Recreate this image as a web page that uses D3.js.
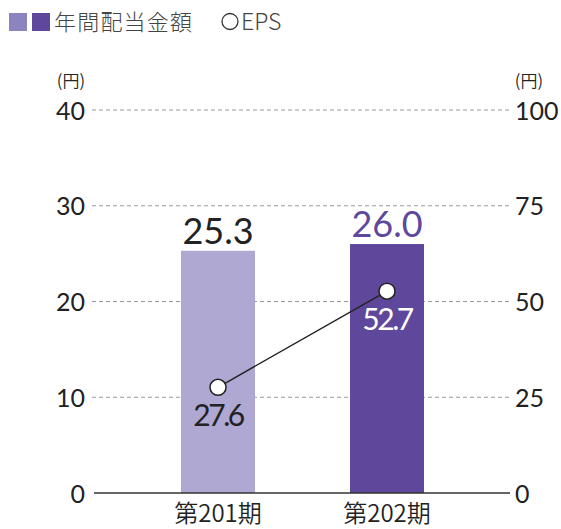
<!DOCTYPE html>
<html><head><meta charset="utf-8">
<script src="https://cdn.jsdelivr.net/npm/d3@7"></script>
<style>body{margin:0;background:#fff}svg{display:block;font-family:"Noto Sans CJK JP","Noto Sans",sans-serif}</style>
</head><body>
<svg id="c" width="561" height="529"></svg>
<script>
const categories = ["第201期", "第202期"];
const dividends = [25.3, 26.0];
const eps = [27.6, 52.7];
const leftTicks = [0, 10, 20, 30, 40];
const rightTicks = [0, 25, 50, 75, 100];
const barColors = ["#aea8d2", "#5f479c"];
const legendColors = ["#8b84bf", "#5f479c"];
const NUM = "Lato, 'Noto Sans', sans-serif";

const svg = d3.select("#c");
const y = d3.scaleLinear().domain([0, 40]).range([493, 110]);
const y2 = d3.scaleLinear().domain([0, 100]).range([493, 110]);
const x = d3.scaleBand().domain(categories).range([181, 424]).paddingInner(0.562).paddingOuter(0);

// legend
svg.selectAll("rect.lg").data(legendColors).enter().append("rect")
  .attr("x", (d,i)=>9 + i*23).attr("y", 13).attr("width", 18).attr("height", 18).attr("fill", d=>d);
svg.append("text").attr("x", 54).attr("y", 30).attr("font-size", 22).attr("letter-spacing", 1.2)
  .attr("font-weight", 300).attr("fill", "#444").text("年間配当金額");
svg.append("circle").attr("cx", 230).attr("cy", 21.5).attr("r", 8).attr("fill", "#fff").attr("stroke", "#333").attr("stroke-width", 1.3);
svg.append("text").attr("x", 241).attr("y", 30).attr("font-size", 23).attr("fill", "#444")
  .attr("font-weight", 300).text("EPS");

// unit labels
svg.append("text").attr("x", 71).attr("y", 87).attr("font-size", 17).attr("font-weight", 350).attr("text-anchor","middle").attr("fill","#222").text("(円)");
svg.append("text").attr("x", 529).attr("y", 87).attr("font-size", 17).attr("font-weight", 350).attr("text-anchor","middle").attr("fill","#222").text("(円)");

// gridlines
svg.selectAll("line.g").data(leftTicks.slice(1)).enter().append("line")
  .attr("x1", 92).attr("x2", 512).attr("y1", d=>y(d)).attr("y2", d=>y(d))
  .attr("stroke", "#999").attr("stroke-dasharray", "4,3").attr("stroke-width", 1);

// axes
const la = svg.append("g").attr("transform", "translate(85,0)")
  .call(d3.axisLeft(y).tickValues(leftTicks).tickSize(0).tickPadding(0));
la.select(".domain").remove();
la.selectAll("text").attr("font-size", 25).attr("fill", "#222").attr("dy", "0.36em")
  .attr("font-family", NUM);
const ra = svg.append("g").attr("transform", "translate(515,0)")
  .call(d3.axisRight(y2).tickValues(rightTicks).tickSize(0).tickPadding(0));
ra.select(".domain").remove();
ra.selectAll("text").attr("font-size", 25).attr("fill", "#222").attr("dy", "0.36em")
  .attr("font-family", NUM);

// bars
svg.selectAll("rect.bar").data(dividends).enter().append("rect")
  .attr("x", (d,i)=>x(categories[i])).attr("width", x.bandwidth())
  .attr("y", d=>y(d)).attr("height", d=>y(0)-y(d)).attr("fill", (d,i)=>barColors[i]);

// baseline
svg.append("line").attr("x1", 94).attr("x2", 510).attr("y1", y(0)).attr("y2", y(0)).attr("stroke", "#333").attr("stroke-width", 1.5);

// category labels
const bx = svg.append("g").attr("transform", `translate(0,${y(0)})`)
  .call(d3.axisBottom(x).tickSize(0).tickPadding(0));
bx.select(".domain").remove();
bx.selectAll("text").attr("font-size", 24).attr("fill", "#222").attr("dy", "1.2em")
  .attr("font-family", "'Noto Sans CJK JP', sans-serif").attr("font-weight", 350);

// bar value labels
svg.selectAll("text.bv").data(dividends).enter().append("text")
  .attr("x", (d,i)=>x(categories[i]) + x.bandwidth()/2).attr("y", d=>y(d) - 7)
  .attr("text-anchor","middle").attr("font-size", 36).attr("font-family", NUM)
  .attr("fill", (d,i)=> i===0 ? "#222" : "#5f479c").text(d=>d.toFixed(1));

// EPS line
const cx = (i)=> x(categories[i]) + x.bandwidth()/2;
svg.append("path").datum(eps)
  .attr("d", d3.line().x((d,i)=>cx(i)).y(d=>y2(d)))
  .attr("fill","none").attr("stroke","#222").attr("stroke-width",1.4);
svg.selectAll("circle.p").data(eps).enter().append("circle")
  .attr("cx", (d,i)=>cx(i)).attr("cy", d=>y2(d)).attr("r", 8)
  .attr("fill","#fff").attr("stroke","#222").attr("stroke-width",1.5);
svg.selectAll("text.ev").data(eps).enter().append("text")
  .attr("x", (d,i)=>cx(i)).attr("y", d=>y2(d) + 39)
  .attr("text-anchor","middle").attr("font-size", 30).attr("letter-spacing", -2.5)
  .attr("font-family", NUM)
  .attr("fill", (d,i)=> i===0 ? "#222" : "#fff").text(d=>d.toFixed(1));
</script>
</body></html>
